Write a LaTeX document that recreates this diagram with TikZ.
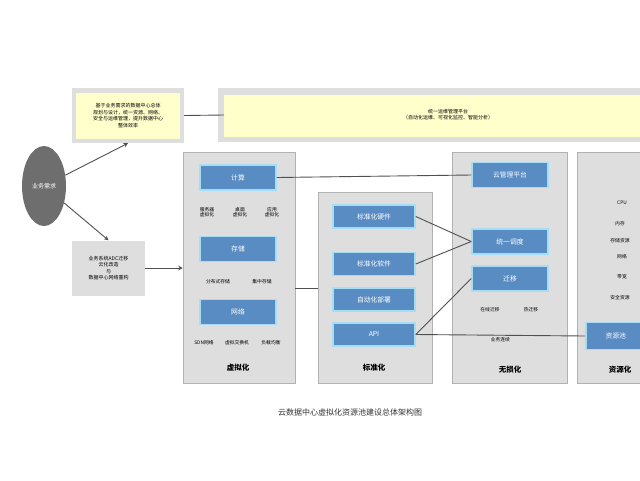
\documentclass[tikz,border=0pt]{standalone}
\usepackage{fontspec}
\newfontfamily\cjk{Noto Sans CJK SC}
\usetikzlibrary{arrows.meta,shapes.geometric}
\definecolor{colgray}{HTML}{DEDEDE}
\definecolor{boxblue}{HTML}{5A8CC4}
\definecolor{lightblue}{HTML}{A6DDF5}
\definecolor{pale}{HTML}{FFFFCC}
\definecolor{ellgray}{HTML}{6E6E6E}
\definecolor{linegray}{HTML}{505050}
\tikzset{
  every node/.style={font=\cjk},
  colbox/.style={fill=colgray, draw=colgray!80!black, line width=0.5pt},
  bluebox/.style={fill=boxblue, draw=lightblue, line width=1.5pt, minimum width=76pt, minimum height=25pt, text=white, font=\cjk\fontsize{6.8}{7}\selectfont, inner sep=1pt},
  tiny/.style={font=\cjk\fontsize{4.8}{5.6}\selectfont, align=center, text=black, inner sep=0.5pt},
  collabel/.style={font=\cjk\bfseries\fontsize{7.5}{8}\selectfont, inner sep=0.5pt},
  conn/.style={draw=linegray, line width=0.9pt},
  arr/.style={conn, -{Stealth[length=4.5pt,width=4.5pt]}}
}
\begin{document}
\begin{tikzpicture}[x=1pt,y=-1pt]
\useasboundingbox (0,0) rectangle (640,480);
\fill[white] (0,0) rectangle (640,480);
% top band
\fill[colgray] (218,88) rectangle (640,142);
\fill[pale] (224,95) rectangle (640,137);
\node[tiny, font=\cjk\fontsize{5}{6}\selectfont] (band) at (448,115) {统一运维管理平台\\（自动化运维、可视化监控、智能分析）};
\coordinate (bandL) at (224,115);
% top-left box
\node[fill=colgray, minimum width=112pt, minimum height=55pt, inner sep=0pt] (tl) at (128,115.5) {};
\node[fill=pale, minimum width=104pt, minimum height=46pt, inner sep=0pt, tiny, font=\cjk\fontsize{5}{6.4}\selectfont] (tlt) at (128,115.5) {基于业务需求的数据中心总体\\规划与设计，统一资源、网络、\\安全与运维管理，提升数据中心\\整体效率};
% ellipse
\node[ellipse, fill=ellgray, minimum width=44pt, minimum height=80pt, inner sep=0pt, text=white, font=\cjk\fontsize{6}{7}\selectfont] (user) at (44,186) {业务需求};
% lower-left box
\node[fill=colgray, minimum width=73pt, minimum height=55pt, inner sep=0pt, tiny, font=\cjk\fontsize{5}{6.6}\selectfont] (ll) at (108.5,268) {业务系统ADC迁移\\云化改造\\与\\数据中心网络重构};
% columns
\node[colbox, minimum width=112pt, minimum height=231pt, inner sep=0pt] (c1) at (239,267.5) {};
\node[colbox, minimum width=114pt, minimum height=191pt, inner sep=0pt] (c2) at (375,287.5) {};
\node[colbox, minimum width=115pt, minimum height=231pt, inner sep=0pt] (c3) at (509.5,267.5) {};
\fill[colgray] (577,152) rectangle (640,383);
\draw[colgray!80!black, line width=0.5pt] (640,152) -- (577,152) -- (577,383) -- (640,383);
% column 1
\node[bluebox] (a1) at (238,177.5) {计算};
\node[tiny] (a1x) at (207,212) {服务器\\虚拟化};
\node[tiny] (a1y) at (240,212) {桌面\\虚拟化};
\node[tiny] (a1z) at (272,212) {应用\\虚拟化};
\node[bluebox] (a2) at (238,249) {存储};
\node[tiny] (a2x) at (218,282) {分布式存储};
\node[tiny] (a2y) at (262,282) {集中存储};
\node[bluebox] (a3) at (238,312) {网络};
\node[tiny] (a3x) at (204,343) {SDN网络};
\node[tiny] (a3y) at (237,343) {虚拟交换机};
\node[tiny] (a3z) at (271,343) {负载均衡};
\node[collabel] (l1) at (238,368) {虚拟化};
% column 2
\node[bluebox, minimum width=82pt, minimum height=23pt] (b1) at (374,216.5) {标准化硬件};
\node[bluebox, minimum width=82pt, minimum height=23pt] (b2) at (374,264) {标准化软件};
\node[bluebox, minimum width=82pt, minimum height=23pt] (b3) at (374,299.5) {自动化部署};
\node[bluebox, minimum width=82pt, minimum height=23pt] (b4) at (374,334.5) {API};
\node[collabel] (l2) at (374,368) {标准化};
% column 3
\node[bluebox] (d1) at (510,175) {云管理平台};
\node[bluebox] (d2) at (510,241.5) {统一调度};
\node[bluebox] (d3) at (510,278.5) {迁移};
\node[tiny] (d3x) at (490,310) {在线迁移};
\node[tiny] (d3y) at (531,310) {热迁移};
\node[collabel] (l3) at (510,370) {无损化};
% column 4
\node[tiny] (e1) at (622,203) {CPU};
\node[tiny] (e2) at (620,224) {内存};
\node[tiny] (e3) at (620,241) {存储资源};
\node[tiny] (e4) at (622,257) {网络};
\node[tiny] (e5) at (622,277) {带宽};
\node[tiny] (e6) at (620,298) {安全资源};
\node[bluebox, anchor=west, minimum width=60pt, minimum height=27pt] (e7) at (585,336) {资源池};
\node[collabel] (l4) at (620,370) {资源化};
% caption
\node[font=\cjk\fontsize{8}{9}\selectfont, text=black!80] (cap) at (350,412) {云数据中心虚拟化资源池建设总体架构图};
% connectors
\draw[arr] (user) -- (tl.south);
\draw[arr] (user) -- (ll.north);
\draw[conn] (tl.east) -- (bandL);
\draw[arr] (ll.east) -- (c1.west |- ll.east);
\draw[conn] (a1.east) -- (d1.west);
\draw[conn] (c1.east |- 0,288) -- (c2.west |- 0,288);
\draw[conn] (b1.east) -- (d2.west);
\draw[conn] (b2.east) -- (d2.west);
\draw[conn] (b4.east) -- (d3.west);
\draw[conn] (b4.east) -- node[below, tiny, yshift=-1pt] {业务连续} (e7.west);
\end{tikzpicture}
\end{document}
